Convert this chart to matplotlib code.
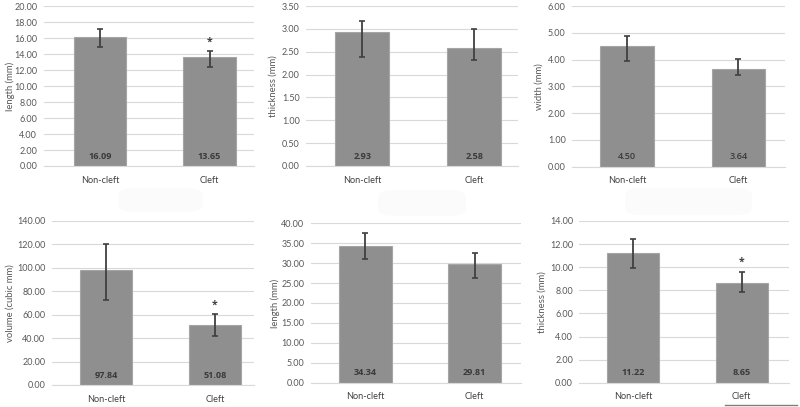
import matplotlib
matplotlib.use("Agg")
import matplotlib.pyplot as plt
from matplotlib.patches import FancyBboxPatch
from matplotlib.lines import Line2D

plt.rcParams['font.family'] = ['Lato', 'DejaVu Sans']

categories = ["Non-cleft", "Cleft"]

# panel data
ylabels = ["length (mm)", "thickness (mm)", "width (mm)",
           "volume (cubic mm)", "length (mm)", "thickness (mm)"]
values = [[16.09, 13.65], [2.93, 2.58], [4.50, 3.64],
          [97.84, 51.08], [34.34, 29.81], [11.22, 8.65]]
err_minus = [[1.19, 1.30], [0.55, 0.26], [0.55, 0.22],
             [25.4, 9.1], [3.2, 3.5], [1.26, 0.82]]
err_plus = [[1.07, 0.68], [0.25, 0.42], [0.39, 0.39],
            [22.3, 9.4], [3.2, 2.8], [1.22, 0.96]]
ymax = [20, 3.5, 6, 140, 40, 14]
ystep = [2, 0.5, 1, 20, 5, 2]
significant = [[False, True], [False, False], [False, False],
               [False, True], [False, False], [False, True]]
label_bold = [True, True, False, True, True, True]

W, H = 800, 407
fig = plt.figure(figsize=(W / 100, H / 100), dpi=100)

# axes rectangles in pixels: left, right, top, bottom
rects = [(43.5, 254, 6, 166), (306, 518, 6, 166), (572, 785, 6, 166.7),
         (51.7, 254, 220.7, 385), (310.7, 521, 223.3, 382.7), (579.3, 789.3, 221, 382.7)]
xlims = [(-0.518, 1.406), (-0.503, 1.39), (-0.494, 1.419),
         (-0.503, 1.361), (-0.5, 1.423), (-0.495, 1.44)]
ylabel_x = [10.5, 273, 539, 10, 275, 542]

# faint title placeholders
for (x0, x1, y0, y1) in [(118, 203, 188, 212), (378, 466, 190, 216), (625, 752, 188, 215)]:
    box = FancyBboxPatch((x0 / W, 1 - y1 / H), (x1 - x0) / W, (y1 - y0) / H,
                         boxstyle="round,pad=0,rounding_size=0.02",
                         transform=fig.transFigure, facecolor="#fbfbfb",
                         edgecolor="none", zorder=0)
    fig.patches.append(box)

grid_c = "#d9d9d9"
txt_c = "#595959"
for i in range(6):
    l, r, t, b = rects[i]
    ax = fig.add_axes([l / W, 1 - b / H, (r - l) / W, (b - t) / H])
    x = [0, 1]
    ax.bar(x, values[i], width=0.48, color="#8f8f8f", edgecolor="#a5a5a5",
           linewidth=0.8, zorder=2)
    ax.errorbar(x, values[i], yerr=[err_minus[i], err_plus[i]], fmt="none",
                ecolor="#404040", elinewidth=1.3, capsize=2, capthick=1.2, zorder=3)
    ax.set_xlim(*xlims[i])
    ax.set_ylim(0, ymax[i])
    n = int(round(ymax[i] / ystep[i]))
    ticks = [k * ystep[i] for k in range(n + 1)]
    ax.set_yticks(ticks)
    ax.set_yticklabels([f"{v:.2f}" for v in ticks], fontsize=6.5, color=txt_c)
    ax.set_xticks(x)
    ax.set_xticklabels(categories, fontsize=6.6, color="#404040")
    ax.tick_params(axis="both", length=0)
    ax.tick_params(axis="y", pad=4.5)
    ax.tick_params(axis="x", pad=7)
    ax.yaxis.grid(True, color=grid_c, linewidth=0.8, zorder=0)
    ax.set_axisbelow(True)
    for s in ["top", "right", "left"]:
        ax.spines[s].set_visible(False)
    ax.spines["bottom"].set_color(grid_c)
    ax.spines["bottom"].set_linewidth(0.8)
    ax.patch.set_alpha(0)
    for j in range(2):
        ax.annotate(f"{values[i][j]:.2f}", xy=(x[j], 0), xytext=(0, 7),
                    textcoords="offset points", ha="center", va="center",
                    fontsize=6.6, color="#3a3a3a",
                    family=["Open Sans", "DejaVu Sans"],
                    fontweight="bold" if label_bold[i] else "semibold", zorder=4)
        if significant[i][j]:
            ax.annotate("*", xy=(x[j], values[i][j] + err_plus[i][j]), xytext=(0, 2.5),
                        textcoords="offset points", ha="center", va="bottom",
                        fontsize=7.5, color="#404040", fontweight="bold",
                        family=["Open Sans", "DejaVu Sans"], zorder=4)
    fig.text(ylabel_x[i] / W, 1 - ((t + b) / 2) / H, ylabels[i], rotation=90,
             ha="center", va="center", fontsize=6.8, color=txt_c)

# stray underline at bottom right
fig.add_artist(Line2D([725 / W, 797 / W], [1 - 405 / H, 1 - 405 / H],
                      transform=fig.transFigure, color="#7f7f7f", linewidth=1))

fig.savefig("out.png", dpi=100)
